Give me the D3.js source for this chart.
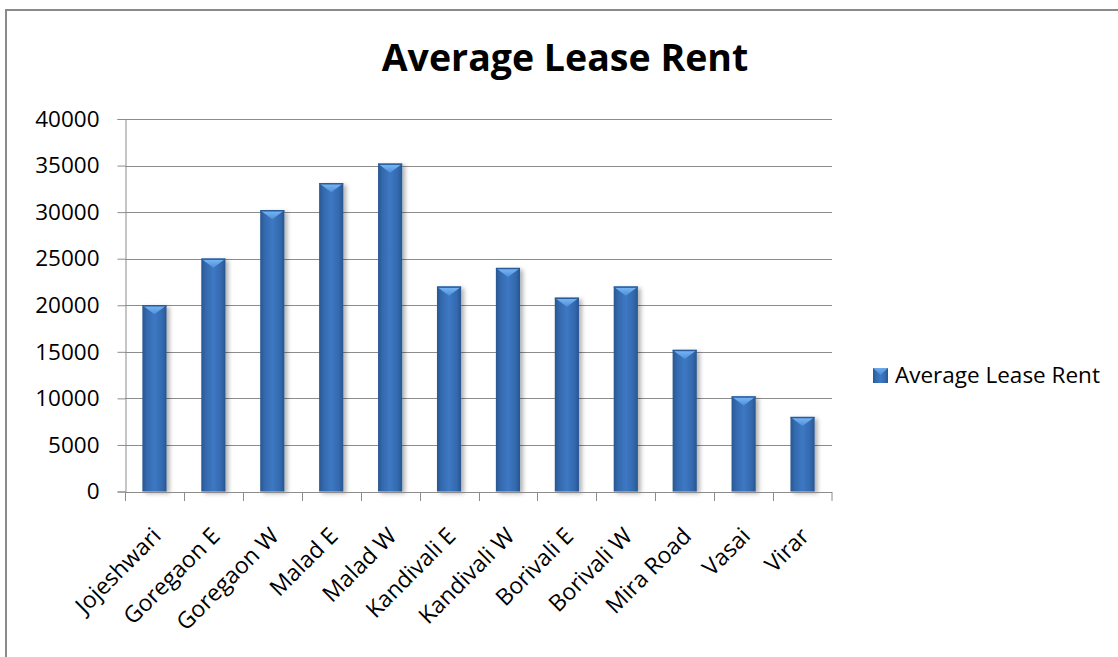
<!DOCTYPE html>
<html>
<head>
<meta charset="utf-8">
<script src="https://cdn.jsdelivr.net/npm/d3@7"></script>
<style>
  body { margin: 0; background: #fff; overflow: hidden; }
  text { font-family: "Open Sans", sans-serif; fill: #000; }
</style>
</head>
<body>
<div id="chart"></div>
<script>
// chart data
var categories = ['Jojeshwari', 'Goregaon E', 'Goregaon W', 'Malad E', 'Malad W', 'Kandivali E',
  'Kandivali W', 'Borivali E', 'Borivali W', 'Mira Road', 'Vasai', 'Virar'];
var rents = [20000, 25000, 30200, 33100, 35200, 22000, 24000, 20800, 22000, 15200, 10200, 8000];
var yTicks = [0, 5000, 10000, 15000, 20000, 25000, 30000, 35000, 40000];
var seriesName = 'Average Lease Rent';
var chartTitle = 'Average Lease Rent';

var width = 1118, height = 657;
var margin = {left: 125, right: 286, top: 119, bottom: 165};

var data = categories.map(function (c, i) {
  return {key: c, value: rents[i]};
});

var svg = d3.select('#chart')
  .append('svg')
  .attr('width', width)
  .attr('height', height)
  .style('display', 'block');

var defs = svg.append('defs');

var grad = defs.append('linearGradient')
  .attr('id', 'barGrad')
  .attr('x1', '0%').attr('x2', '100%').attr('y1', '0%').attr('y2', '0%');
grad.append('stop').attr('offset', '0%').attr('stop-color', '#285790');
grad.append('stop').attr('offset', '18%').attr('stop-color', '#3469ae');
grad.append('stop').attr('offset', '50%').attr('stop-color', '#3d78c3');
grad.append('stop').attr('offset', '82%').attr('stop-color', '#3469ae');
grad.append('stop').attr('offset', '100%').attr('stop-color', '#275590');

var bevel = defs.append('linearGradient')
  .attr('id', 'bevelGrad')
  .attr('x1', '0%').attr('x2', '0%').attr('y1', '0%').attr('y2', '100%');
bevel.append('stop').attr('offset', '0%').attr('stop-color', '#7cbaf6');
bevel.append('stop').attr('offset', '100%').attr('stop-color', '#4d8fdb');

var shadow = defs.append('filter')
  .attr('id', 'shadow')
  .attr('x', '-30%').attr('y', '-10%').attr('width', '170%').attr('height', '130%');
shadow.append('feDropShadow')
  .attr('dx', 3).attr('dy', 2)
  .attr('stdDeviation', 2)
  .attr('flood-color', '#000')
  .attr('flood-opacity', 0.3);

// outer frame (right and bottom edges fall outside the picture)
var frame = svg.append('g').attr('class', 'frame');
frame.append('line')
  .attr('x1', 6).attr('x2', width)
  .attr('y1', 10).attr('y2', 10)
  .attr('stroke', '#8a8a8a').attr('stroke-width', 2);
frame.append('line')
  .attr('x1', 6).attr('x2', 6)
  .attr('y1', 9).attr('y2', height)
  .attr('stroke', '#8a8a8a').attr('stroke-width', 2);

var x = d3.scaleBand()
  .domain(categories)
  .range([margin.left, width - margin.right]);
var y = d3.scaleLinear()
  .domain([0, 40000])
  .range([height - margin.bottom - 0.5, margin.top]);

// title
svg.append('text')
  .attr('x', 565)
  .attr('y', 71)
  .attr('text-anchor', 'middle')
  .style('font-size', '37.5px')
  .style('font-weight', 'bold')
  .text(chartTitle);

// grid lines
svg.append('g')
  .attr('class', 'grid')
  .selectAll('line')
  .data(yTicks.slice(1))
  .enter().append('line')
  .attr('x1', margin.left)
  .attr('x2', width - margin.right)
  .attr('y1', function (d) { return Math.round(y(d)) + 0.5; })
  .attr('y2', function (d) { return Math.round(y(d)) + 0.5; })
  .attr('stroke', '#8c8c8c')
  .attr('stroke-width', 1);

// y axis
var yAxis = svg.append('g')
  .attr('class', 'yaxis')
  .attr('transform', 'translate(' + (margin.left + 0.5) + ',0)')
  .call(d3.axisLeft(y).tickValues(yTicks).tickSize(8).tickPadding(18).tickFormat(d3.format('d')));
yAxis.selectAll('path, line').attr('stroke', '#8c8c8c');
yAxis.selectAll('text')
  .style('font-size', '22.5px')
  .style('font-family', '"Open Sans", sans-serif')
  .attr('fill', '#000');

// bars
var barW = x.bandwidth() * 0.41;
var bars = svg.append('g')
  .attr('class', 'bars')
  .selectAll('g')
  .data(data)
  .enter().append('g')
  .attr('filter', 'url(#shadow)');

bars.append('rect')
  .attr('x', function (d) { return x(d.key) + (x.bandwidth() - barW) / 2; })
  .attr('y', function (d) { return y(d.value); })
  .attr('width', barW)
  .attr('height', function (d) { return y(0) - y(d.value); })
  .attr('fill', 'url(#barGrad)');

bars.append('polygon')
  .attr('points', function (d) {
    var x0 = x(d.key) + (x.bandwidth() - barW) / 2, y0 = y(d.value);
    return [[x0, y0], [x0 + barW, y0], [x0 + barW - 4, y0 + 3], [x0 + barW / 2, y0 + 9], [x0 + 4, y0 + 3]]
      .map(function (p) { return p.join(','); }).join(' ');
  })
  .attr('fill', 'url(#bevelGrad)');

bars.append('line')
  .attr('x1', function (d) { return x(d.key) + (x.bandwidth() - barW) / 2; })
  .attr('x2', function (d) { return x(d.key) + (x.bandwidth() + barW) / 2; })
  .attr('y1', function (d) { return y(d.value) + 0.5; })
  .attr('y2', function (d) { return y(d.value) + 0.5; })
  .attr('stroke', '#2b5c9c')
  .attr('stroke-width', 1.5);

// x axis, ticks between categories
var xg = svg.append('g')
  .attr('class', 'xaxis');
xg.append('line')
  .attr('x1', margin.left)
  .attr('x2', width - margin.right)
  .attr('y1', Math.round(y(0)) + 0.5)
  .attr('y2', Math.round(y(0)) + 0.5)
  .attr('stroke', '#8c8c8c');
xg.selectAll('.tick')
  .data(categories.concat(['__end']))
  .enter().append('line')
  .attr('class', 'tick')
  .attr('x1', function (d) { return d === '__end' ? width - margin.right : Math.round(x(d)) + 0.5; })
  .attr('x2', function (d) { return d === '__end' ? width - margin.right : Math.round(x(d)) + 0.5; })
  .attr('y1', Math.round(y(0)))
  .attr('y2', Math.round(y(0)) + 9)
  .attr('stroke', '#8c8c8c');

xg.selectAll('.lbl')
  .data(categories)
  .enter().append('text')
  .attr('class', 'lbl')
  .attr('text-anchor', 'end')
  .attr('transform', function (d) {
    return 'translate(' + (x(d) + x.bandwidth() / 2 + 8) + ',' + (y(0) + 46) + ') rotate(-45)';
  })
  .style('font-size', '23px')
  .text(function (d) { return d; });

// legend
var legend = svg.append('g')
  .attr('class', 'legend')
  .attr('transform', 'translate(873,368)');
legend.append('rect')
  .attr('width', 15)
  .attr('height', 15)
  .attr('fill', 'url(#barGrad)');
legend.append('polygon')
  .attr('points', '0,0 15,0 7.5,7')
  .attr('fill', 'url(#bevelGrad)')
  .attr('opacity', 0.8);
legend.append('text')
  .attr('x', 22)
  .attr('y', 15)
  .style('font-size', '22.5px')
  .text(seriesName);
</script>
</body>
</html>
